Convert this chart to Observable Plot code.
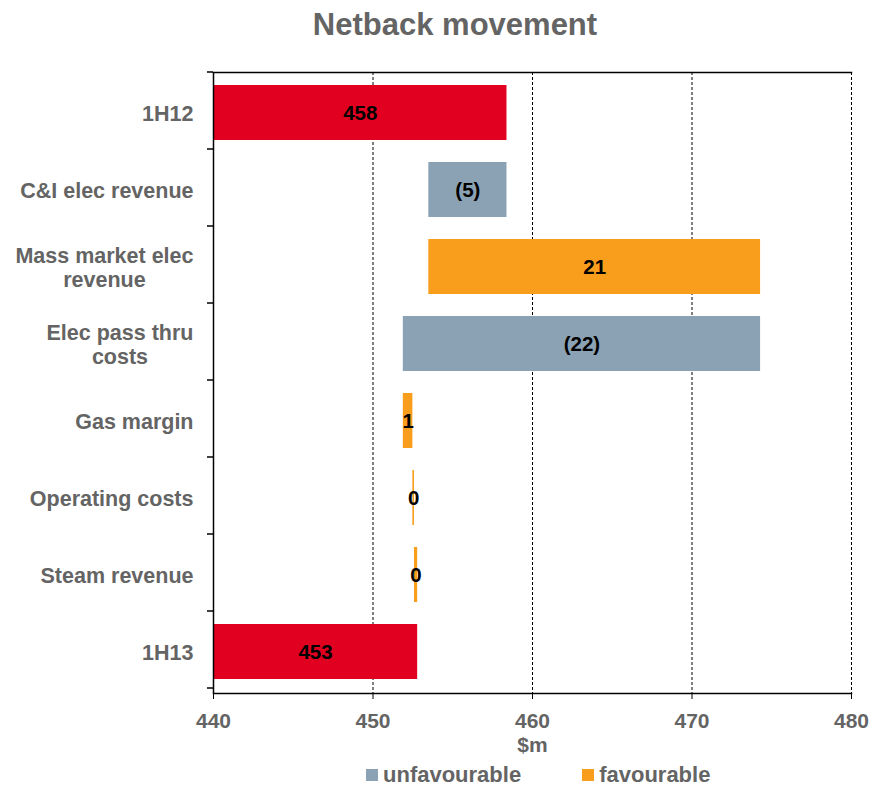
<!DOCTYPE html>
<html>
<head>
<meta charset="utf-8">
<script src="https://cdn.jsdelivr.net/npm/d3@7"></script>
<script src="https://cdn.jsdelivr.net/npm/@observablehq/plot@0.6"></script>
<style>
  body { margin: 0; background: #fff; font-family: "Liberation Sans", Arial, sans-serif; }
  #wrap { position: relative; width: 870px; height: 786px; overflow: hidden; }
  #title { height: 60px; padding-left: 40px; text-align: center; font-size: 31px; font-weight: bold; color: #646464; line-height: 50px; }
  #legend { position: absolute; left: 366px; top: 764px; display: flex; align-items: center;
            font-size: 22px; font-weight: bold; color: #646464; line-height: 22px; }
  #legend .item { display: flex; align-items: center; }
  #legend .sw { width: 12px; height: 12px; display: inline-block; margin-right: 5px; }
</style>
</head>
<body>
<div id="wrap">
  <div id="title">Netback movement</div>
  <div id="chart"></div>
  <div id="legend"></div>
</div>
<script>
// Netback bridge, $m: opening total, movements, closing total
const categories = ["1H12", "C&I elec revenue", "Mass market elec revenue", "Elec pass thru costs",
                    "Gas margin", "Operating costs", "Steam revenue", "1H13"];
const opening = 458.4;
const movements = [-4.9, 20.8, -22.4, 0.6, 0.1, 0.2];
const xTicks = [440, 450, 460, 470, 480];
const gridValues = [450, 460, 470, 480];
const kinds = ["total", "unfavourable", "favourable"];
const kindColors = ["#E1001F", "#8BA2B4", "#F99D1C"];
const legendKinds = ["unfavourable", "favourable"];
const wrappedLabels = new Map([
  ["Mass market elec revenue", "Mass market elec\nrevenue"],
  ["Elec pass thru costs", "Elec pass thru\ncosts"]
]);

// Build the waterfall rows from the running total
const rows = [];
let level = opening;
rows.push({category: categories[0], start: 440, end: opening, value: opening, kind: "total"});
movements.forEach((v, i) => {
  const next = Math.round((level + v) * 10) / 10;
  rows.push({category: categories[i + 1], start: level, end: next, value: v,
             kind: v < 0 ? "unfavourable" : "favourable"});
  level = next;
});
rows.push({category: categories[categories.length - 1], start: 440, end: level, value: level, kind: "total"});

const fmt = d => d.kind === "total" ? String(Math.round(d.value))
  : d.value < 0 ? `(${Math.round(-d.value)})` : String(Math.round(d.value));

const font = '"Liberation Sans", Arial, sans-serif';

const chart = Plot.plot({
  width: 870,
  height: 698,
  marginLeft: 213,
  marginRight: 19,
  marginTop: 12,
  marginBottom: 65,
  style: {fontFamily: font, fontSize: "21px", fontWeight: "bold", color: "#646464", background: "white", overflow: "visible"},
  x: {domain: [440, 480]},
  y: {domain: categories, paddingInner: 0.28, paddingOuter: 0.14},
  color: {domain: kinds, range: kindColors},
  marks: [
    Plot.ruleX(gridValues, {stroke: "#000", strokeWidth: 1, strokeDasharray: "3,2"}),
    Plot.barX(rows, {y: "category", x1: "start", x2: "end", fill: "kind"}),
    Plot.text(rows, {y: "category", x: d => (d.start + d.end) / 2, text: fmt,
                     fill: "#000", fontSize: 20.5, fontWeight: "bold"}),
    Plot.ruleX([440], {stroke: "#000", strokeWidth: 1.5}),
    Plot.frame({anchor: "top", stroke: "#000", strokeWidth: 1.5}),
    Plot.frame({anchor: "bottom", stroke: "#000", strokeWidth: 1.5}),
    Plot.axisX({ticks: xTicks, tickSize: 6, tickPadding: 14, stroke: "#000", fill: "#646464",
                fontSize: 21, label: "$m", labelAnchor: "center", labelArrow: "none", labelOffset: 58}),
    Plot.axisY({tickSize: 0, tickPadding: 20, fill: "#646464", fontSize: 21.5, lineHeight: 1.15,
                tickFormat: d => wrappedLabels.get(d) ?? d, label: null})
  ]
});

document.getElementById("chart").appendChild(chart);

// Category ticks sit on the band boundaries, to the left of the axis
const ys = chart.scale("y");
const xs = chart.scale("x");
const x0 = xs.range[0];
const svg = d3.select(chart);
const boundaries = d3.range(categories.length + 1).map(i => ys.range[0] + i * ys.step);
svg.append("g")
  .attr("stroke", "#000")
  .attr("stroke-width", 1.5)
  .selectAll("line")
  .data(boundaries)
  .join("line")
  .attr("x1", x0 - 6).attr("x2", x0)
  .attr("y1", d => d).attr("y2", d => d);

// Two-line category labels are centred on their widest line
svg.selectAll('g[aria-label="y-axis tick label"] text').each(function () {
  const tspans = this.querySelectorAll("tspan");
  if (tspans.length > 1) {
    const w = this.getBBox().width;
    this.setAttribute("text-anchor", "middle");
    tspans.forEach(t => t.setAttribute("x", -w / 2));
  }
});

// Legend
const legend = d3.select("#legend");
legendKinds.forEach((k, i) => {
  const item = legend.append("div").attr("class", "item").style("margin-right", i === 0 ? "61px" : "0");
  item.append("span").attr("class", "sw").style("background", kindColors[kinds.indexOf(k)]);
  item.append("span").text(k);
});
</script>
</body>
</html>
